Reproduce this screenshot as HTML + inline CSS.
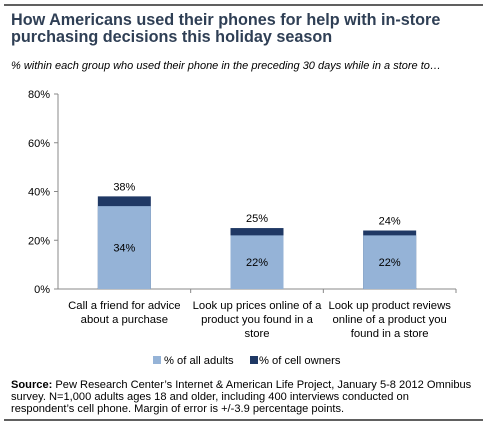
<!DOCTYPE html>
<html><head><meta charset="utf-8"><style>
body{margin:0;width:488px;height:427px;background:#fff;font-family:"Liberation Sans",sans-serif;overflow:hidden}
</style></head><body>
<svg width="488" height="427" xmlns="http://www.w3.org/2000/svg">
<line x1="4" y1="5" x2="483" y2="5" stroke="#000" stroke-width="1.2"/>
<line x1="4" y1="420" x2="483" y2="420" stroke="#000" stroke-width="1.2"/>
<text x="11" y="25" font-size="16.2" font-weight="bold" fill="#2f3f55">How Americans used their phones for help with in-store</text>
<text x="11" y="42" font-size="16.2" font-weight="bold" fill="#2f3f55">purchasing decisions this holiday season</text>
<text x="11" y="69" font-size="11" font-style="italic" fill="#000">% within each group who used their phone in the preceding 30 days while in a store to…</text>
<g id="plot"></g>
<g><rect x="153" y="356" width="8" height="8" fill="#95b3d7"/><text x="164" y="364" font-size="11.2">% of all adults</text></g>
<g><rect x="250" y="356" width="8" height="8" fill="#1f3864"/><text x="259" y="364" font-size="11.2">% of cell owners</text></g>
<text x="11" y="388" font-size="11.1"><tspan font-weight="bold">Source:</tspan> Pew Research Center’s Internet &amp; American Life Project, January 5-8 2012 Omnibus</text>
<text x="11" y="400" font-size="11.1">survey. N=1,000 adults ages 18 and older, including 400 interviews conducted on</text>
<text x="11" y="412" font-size="11.1">respondent’s cell phone. Margin of error is +/-3.9 percentage points.</text>
</svg>
<script>
const categories=[["Call a friend for advice","about a purchase"],["Look up prices online of a","product you found in a","store"],["Look up product reviews","online of a product you","found in a store"]];
const allAdults=[34,22,22];
const cellOwners=[38,25,24];
const ticks=[0,20,40,60,80];
const NS="http://www.w3.org/2000/svg";
const g=document.getElementById('plot');
const x0=58,x1=456,y0=289,yTop=94,maxV=80;
const y=v=>y0-(v/maxV)*(y0-yTop);
const band=(x1-x0)/categories.length;
const cx=i=>x0+band*(i+0.5);
function el(t,a,txt){const e=document.createElementNS(NS,t);for(const k in a)e.setAttribute(k,a[k]);if(txt!=null)e.textContent=txt;g.appendChild(e);return e;}
let ax=el('line',{x1:x0,y1:yTop,x2:x0,y2:y0,stroke:'#888'});


let bx=el('line',{x1:x0,y1:y0,x2:x1,y2:y0,stroke:'#888'});


ticks.forEach(t=>{
 let l=el('line',{x1:x0-4,y1:y(t),x2:x0,y2:y(t),stroke:'#888'});
 
 
 let tx=el('text',{x:x0-8,y:y(t)+4,'font-size':11,'text-anchor':'end'},t+'%');
 
 
});
for(let i=1;i<=categories.length;i++){let l=el('line',{x1:x0+band*i,y1:y0,x2:x0+band*i,y2:y0+4,stroke:'#888'});}
const bw=53;
categories.forEach((c,i)=>{
 const c0=cx(i);
 let d=el('rect',{x:c0-bw/2,y:y(cellOwners[i]),width:bw,height:y0-y(cellOwners[i]),fill:'#1f3864'});
 
 
 let b=el('rect',{x:c0-bw/2,y:y(allAdults[i]),width:bw,height:y0-y(allAdults[i]),fill:'#95b3d7'});
 
 
 let t1=el('text',{x:c0,y:y(cellOwners[i])-6,'font-size':11,'text-anchor':'middle'},cellOwners[i]+'%');
 
 
 let t2=el('text',{x:c0,y:(y(allAdults[i])+y0)/2+4,'font-size':11,'text-anchor':'middle'},allAdults[i]+'%');
 
 
 c.forEach((line,j)=>{let t=el('text',{x:c0,y:y0+20+j*14,'font-size':11.3,'text-anchor':'middle'},line);});
});
</script>
</body></html>
